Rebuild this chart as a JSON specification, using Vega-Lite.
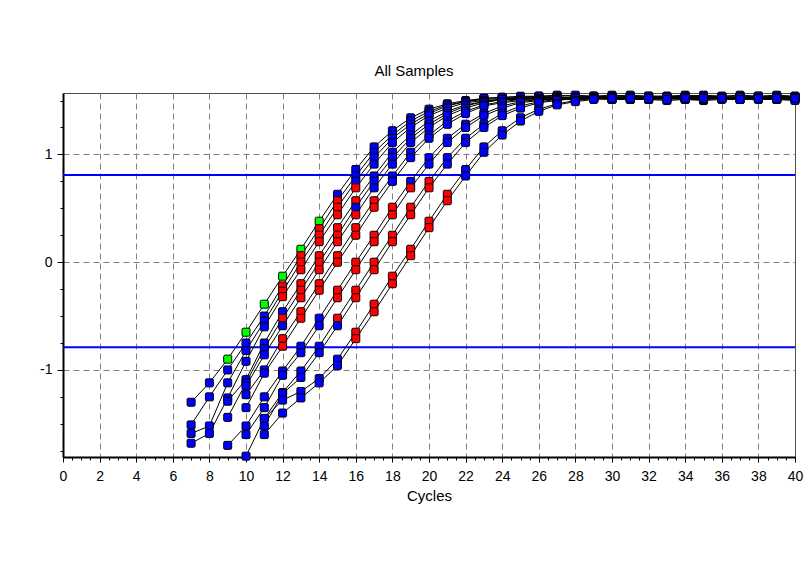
{
  "$schema": "https://vega.github.io/schema/vega-lite/v6.json",
  "width": 732,
  "height": 364,
  "autosize": {"type": "none"},
  "padding": {"left": 63, "top": 93, "right": 17, "bottom": 128},
  "background": "white",
  "config": {
    "font": "Liberation Sans",
    "view": {"stroke": "#505050", "strokeWidth": 1}
  },
  "title": {
    "text": "All Samples",
    "font": "Liberation Sans",
    "fontSize": 15,
    "fontWeight": "normal",
    "color": "black",
    "offset": 10,
    "dx": -15
  },
  "datasets": {
    "thr": [{"v": 0.81}, {"v": -0.79}],
    "curves": [
      {"s": 1, "f0": 9, "f1": 14, "sel": true,
       "c": [7,8,9,10,11,12,13,14,15,16,17,18,19,20,21,22,23,24,25,26,27,28,29,30,31,32,33,34,35,36,37,38,39,40],
       "v": [-1.30,-1.12,-0.90,-0.65,-0.39,-0.13,0.12,0.38,0.63,0.86,1.07,1.22,1.34,1.42,1.47,1.50,1.52,1.53,1.53,1.54,1.53,1.53,1.54,1.53,1.53,1.52,1.53,1.53,1.54,1.53,1.53,1.53,1.52,1.53]},
      {"s": 2, "f0": 12, "f1": 15, "sel": false,
       "c": [7,8,9,10,11,12,13,14,15,16,17,18,19,20,21,22,23,24,25,26,27,28,29,30,31,32,33,34,35,36,37,38,39,40],
       "v": [-1.51,-1.25,-1.00,-0.75,-0.50,-0.22,0.06,0.31,0.57,0.80,1.02,1.18,1.31,1.40,1.46,1.49,1.51,1.52,1.52,1.53,1.52,1.52,1.53,1.52,1.52,1.51,1.52,1.52,1.53,1.52,1.52,1.52,1.51,1.52]},
      {"s": 3, "f0": 12, "f1": 15, "sel": false,
       "c": [7,8,9,10,11,12,13,14,15,16,17,18,19,20,21,22,23,24,25,26,27,28,29,30,31,32,33,34,35,36,37,38,39,40],
       "v": [-1.59,-1.52,-1.12,-0.82,-0.55,-0.27,0.00,0.25,0.51,0.75,0.97,1.15,1.28,1.38,1.45,1.49,1.52,1.53,1.54,1.54,1.55,1.54,1.54,1.55,1.54,1.54,1.54,1.55,1.54,1.54,1.55,1.54,1.54,1.54]},
      {"s": 4, "f0": 12, "f1": 16, "sel": false,
       "c": [7,8,9,10,11,12,13,14,15,16,17,18,19,20,21,22,23,24,25,26,27,28,29,30,31,32,33,34,35,36,37,38,39,40],
       "v": [-1.68,-1.59,-1.26,-0.92,-0.60,-0.32,-0.07,0.19,0.44,0.69,0.91,1.11,1.25,1.36,1.43,1.48,1.50,1.51,1.51,1.52,1.51,1.51,1.52,1.51,1.51,1.51,1.52,1.51,1.50,1.51,1.51,1.52,1.51,1.51]},
      {"s": 5, "f0": 13, "f1": 16, "sel": false,
       "c": [9,10,11,12,13,14,15,16,17,18,19,20,21,22,23,24,25,26,27,28,29,30,31,32,33,34,35,36,37,38,39,40],
       "v": [-1.29,-1.09,-0.75,-0.46,-0.20,0.06,0.32,0.57,0.80,1.02,1.18,1.31,1.40,1.46,1.49,1.51,1.52,1.53,1.53,1.52,1.53,1.53,1.53,1.52,1.53,1.53,1.53,1.52,1.53,1.53,1.53,1.53]},
      {"s": 6, "f0": 12, "f1": 15, "sel": false,
       "c": [9,10,11,12,13,14,15,16,17,18,19,20,21,22,23,24,25,26,27,28,29,30,31,32,33,34,35,36,37,38,39,40],
       "v": [-1.44,-1.12,-0.80,-0.52,-0.26,0.00,0.25,0.51,0.75,0.97,1.15,1.28,1.38,1.45,1.49,1.51,1.52,1.52,1.53,1.52,1.52,1.52,1.53,1.52,1.52,1.52,1.51,1.52,1.52,1.53,1.52,1.52]},
      {"s": 7, "f0": 13, "f1": 16, "sel": false,
       "c": [10,11,12,13,14,15,16,17,18,19,20,21,22,23,24,25,26,27,28,29,30,31,32,33,34,35,36,37,38,39,40],
       "v": [-1.15,-0.86,-0.59,-0.33,-0.07,0.19,0.44,0.69,0.91,1.11,1.25,1.36,1.43,1.48,1.51,1.53,1.54,1.54,1.55,1.54,1.54,1.55,1.54,1.54,1.54,1.55,1.54,1.54,1.54,1.55,1.54]},
      {"s": 8, "f0": 12, "f1": 17, "sel": false,
       "c": [10,11,12,13,14,15,16,17,18,19,20,21,22,23,24,25,26,27,28,29,30,31,32,33,34,35,36,37,38,39,40],
       "v": [-1.23,-1.00,-0.71,-0.46,-0.20,0.06,0.32,0.57,0.80,1.02,1.18,1.31,1.40,1.46,1.49,1.51,1.52,1.53,1.53,1.53,1.52,1.53,1.53,1.53,1.54,1.53,1.53,1.53,1.52,1.53,1.53]},
      {"s": 9, "f0": 12, "f1": 17, "sel": false,
       "c": [10,11,12,13,14,15,16,17,18,19,20,21,22,23,24,25,26,27,28,29,30,31,32,33,34,35,36,37,38,39,40],
       "v": [-1.35,-1.03,-0.78,-0.52,-0.26,0.00,0.25,0.51,0.75,0.97,1.15,1.28,1.38,1.45,1.48,1.50,1.51,1.51,1.51,1.52,1.51,1.51,1.51,1.50,1.51,1.51,1.52,1.51,1.51,1.51,1.50]},
      {"s": 10, "f0": 15, "f1": 18, "sel": false,
       "c": [9,10,11,12,13,14,15,16,17,18,19,20,21,22,23,24,25,26,27,28,29,30,31,32,33,34,35,36,37,38,39,40],
       "v": [-1.70,-1.52,-1.25,-1.01,-0.78,-0.52,-0.26,0.00,0.25,0.51,0.75,0.97,1.15,1.28,1.38,1.45,1.49,1.51,1.52,1.53,1.52,1.53,1.53,1.52,1.53,1.53,1.53,1.52,1.53,1.53,1.52,1.53]},
      {"s": 11, "f0": 15, "f1": 19, "sel": false,
       "c": [10,11,12,13,14,15,16,17,18,19,20,21,22,23,24,25,26,27,28,29,30,31,32,33,34,35,36,37,38,39,40],
       "v": [-1.60,-1.35,-1.05,-0.84,-0.59,-0.33,-0.07,0.19,0.44,0.69,0.91,1.11,1.25,1.36,1.43,1.48,1.50,1.52,1.53,1.54,1.53,1.53,1.54,1.53,1.53,1.54,1.53,1.53,1.54,1.53,1.53]},
      {"s": 12, "f0": 15, "f1": 20, "sel": false,
       "c": [10,11,12,13,14,15,16,17,18,19,20,21,22,23,24,25,26,27,28,29,30,31,32,33,34,35,36,37,38,39,40],
       "v": [-1.80,-1.45,-1.21,-1.01,-0.78,-0.52,-0.26,0.00,0.25,0.51,0.75,0.97,1.15,1.28,1.38,1.45,1.49,1.51,1.52,1.52,1.53,1.52,1.52,1.53,1.52,1.52,1.52,1.53,1.52,1.52,1.52]},
      {"s": 13, "f0": 16, "f1": 20, "sel": false,
       "c": [11,12,13,14,15,16,17,18,19,20,21,22,23,24,25,26,27,28,29,30,31,32,33,34,35,36,37,38,39,40],
       "v": [-1.52,-1.22,-1.07,-0.84,-0.59,-0.33,-0.07,0.19,0.44,0.69,0.91,1.11,1.25,1.36,1.43,1.48,1.50,1.52,1.53,1.53,1.54,1.53,1.53,1.53,1.54,1.53,1.53,1.53,1.54,1.53]},
      {"s": 14, "f0": 16, "f1": 21, "sel": false,
       "c": [11,12,13,14,15,16,17,18,19,20,21,22,23,24,25,26,27,28,29,30,31,32,33,34,35,36,37,38,39,40],
       "v": [-1.45,-1.28,-1.20,-1.08,-0.90,-0.65,-0.39,-0.13,0.12,0.38,0.63,0.86,1.07,1.22,1.34,1.42,1.47,1.50,1.52,1.53,1.53,1.52,1.53,1.53,1.53,1.52,1.53,1.53,1.53,1.53]},
      {"s": 15, "f0": 16, "f1": 21, "sel": false,
       "c": [11,12,13,14,15,16,17,18,19,20,21,22,23,24,25,26,27,28,29,30,31,32,33,34,35,36,37,38,39,40],
       "v": [-1.60,-1.40,-1.26,-1.12,-0.96,-0.71,-0.46,-0.20,0.06,0.32,0.57,0.80,1.02,1.18,1.31,1.40,1.46,1.49,1.51,1.52,1.52,1.52,1.51,1.52,1.52,1.52,1.51,1.52,1.52,1.52]}
    ]
  },
  "layer": [
    {
      "data": {"name": "thr"},
      "mark": {"type": "rule", "color": "#0000ff", "strokeWidth": 2},
      "encoding": {
        "y": {
          "field": "v",
          "type": "quantitative",
          "scale": {"domain": [-1.808, 1.57], "nice": false, "zero": false},
          "axis": {
            "title": null,
            "tickCount": 200,
            "values": [-1.75,-1.5,-1.25,-1,-0.75,-0.5,-0.25,0,0.25,0.5,0.75,1,1.25,1.5],
            "labelExpr": "datum.value % 1 === 0 ? '' + datum.value : ''",
            "labelFont": "Liberation Sans",
            "labelFontSize": 14,
            "labelColor": "black",
            "labelPadding": 5,
            "labelOverlap": false,
            "labelFlush": false,
            "labelBound": false,
            "domainColor": "black",
            "domainWidth": 2,
            "tickColor": "black",
            "tickSize": {"condition": {"test": "datum.value % 1 === 0", "value": 6}, "value": 3},
            "grid": true,
            "gridColor": "#808080",
            "gridDash": [6, 4],
            "gridWidth": 1,
            "gridOpacity": {"condition": {"test": "datum.value % 1 === 0", "value": 1}, "value": 0}
          }
        }
      }
    },
    {
      "data": {"name": "curves"},
      "transform": [{"flatten": ["c", "v"]}],
      "mark": {"type": "line", "color": "black", "strokeWidth": 1},
      "encoding": {
        "x": {
          "field": "c",
          "type": "quantitative",
          "scale": {"domain": [0, 40], "nice": false, "zero": false},
          "axis": {
            "title": "Cycles",
            "titleFont": "Liberation Sans",
            "titleFontSize": 15,
            "titleFontWeight": "normal",
            "titleColor": "black",
            "titlePadding": 5,
            "tickCount": 200,
            "values": [0,0.5,1,1.5,2,2.5,3,3.5,4,4.5,5,5.5,6,6.5,7,7.5,8,8.5,9,9.5,10,10.5,11,11.5,12,12.5,13,13.5,14,14.5,15,15.5,16,16.5,17,17.5,18,18.5,19,19.5,20,20.5,21,21.5,22,22.5,23,23.5,24,24.5,25,25.5,26,26.5,27,27.5,28,28.5,29,29.5,30,30.5,31,31.5,32,32.5,33,33.5,34,34.5,35,35.5,36,36.5,37,37.5,38,38.5,39,39.5,40],
            "labelExpr": "datum.value % 2 === 0 ? '' + datum.value : ''",
            "labelFont": "Liberation Sans",
            "labelFontSize": 14,
            "labelColor": "black",
            "labelPadding": 7,
            "labelOverlap": false,
            "labelFlush": false,
            "labelBound": false,
            "domainColor": "black",
            "domainWidth": 2,
            "tickColor": "black",
            "tickSize": {"condition": {"test": "datum.value % 2 === 0", "value": 5}, "value": 3},
            "grid": true,
            "gridColor": "#808080",
            "gridDash": [6, 4],
            "gridWidth": 1,
            "gridOpacity": {"condition": {"test": "datum.value % 2 === 0 && datum.value > 0 && datum.value < 40", "value": 1}, "value": 0}
          }
        },
        "y": {"field": "v", "type": "quantitative"},
        "detail": {"field": "s", "type": "nominal"}
      }
    },
    {
      "data": {"name": "curves"},
      "transform": [{"flatten": ["c", "v"]}],
      "mark": {
        "type": "point",
        "shape": "M-0.7,-1H0.7A0.3,0.3 0 0 1 1,-0.7V0.7A0.3,0.3 0 0 1 0.7,1H-0.7A0.3,0.3 0 0 1 -1,0.7V-0.7A0.3,0.3 0 0 1 -0.7,-1Z",
        "filled": true,
        "size": 64,
        "stroke": "black",
        "strokeWidth": 1,
        "opacity": 1
      },
      "encoding": {
        "x": {"field": "c", "type": "quantitative"},
        "y": {"field": "v", "type": "quantitative"},
        "fill": {
          "condition": [
            {"test": "datum.sel && datum.c >= datum.f0 && datum.c <= datum.f1", "value": "#00ff00"},
            {"test": "datum.c >= datum.f0 && datum.c <= datum.f1", "value": "#ff0000"}
          ],
          "value": "#0000ff"
        }
      }
    }
  ]
}
